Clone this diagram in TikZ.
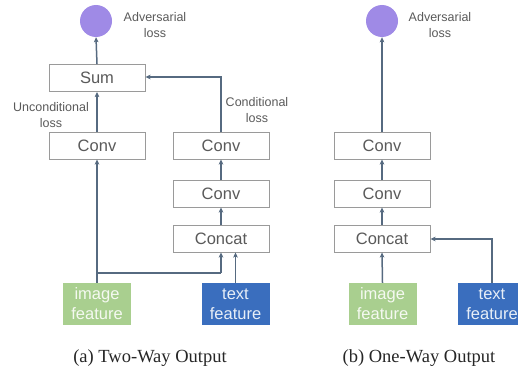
\documentclass[tikz,border=0pt]{standalone}
\usepackage{fontspec}
\setmainfont{Liberation Serif}
\newfontfamily\diagfont{Liberation Sans}
\usetikzlibrary{arrows.meta}
\definecolor{losspurple}{HTML}{9F8AE6}
\definecolor{imggreen}{HTML}{A9CF8F}
\definecolor{txtblue}{HTML}{3A6EBE}
\definecolor{wire}{HTML}{566A80}
\definecolor{boxline}{HTML}{9A9A9A}
\definecolor{boxtext}{HTML}{5A5A5A}
\tikzset{
  layer/.style={draw=boxline, line width=0.9pt, fill=white, minimum width=96pt,
    minimum height=27pt, inner sep=0pt, text=boxtext,
    font=\diagfont\fontsize{16.5}{18}\selectfont},
  feat/.style={minimum width=68pt, minimum height=42pt, inner sep=0pt,
    align=center, font=\diagfont\fontsize{16.5}{20}\selectfont},
  imgfeat/.style={feat, fill=imggreen, text=white!88!imggreen},
  txtfeat/.style={feat, fill=txtblue, text=white!88!txtblue},
  lossdot/.style={circle, fill=losspurple, minimum size=32pt, inner sep=0pt},
  note/.style={align=center, text=boxtext, font=\diagfont\fontsize{12.5}{16}\selectfont},
  caption/.style={font=\fontsize{18.5}{20}\selectfont, text=black!85},
  flow/.style={draw=wire, line width=1.5pt,
    -{Stealth[length=5pt, width=4.5pt, inset=1pt]}},
  wireonly/.style={draw=wire, line width=1.5pt}
}
\begin{document}
\begin{tikzpicture}[x=1pt, y=-1pt]
\useasboundingbox (0,0) rectangle (518,369);

% ---------- (a) two-way output ----------
\node[lossdot] (aloss) at (96,21) {};
\node[note] (aadv) at (155,25) {Adversarial\\loss};
\node[layer] (sum) at (97,78) {Sum};
\node[layer] (aconvL) at (97,145.5) {Conv};
\node[layer] (aconvR1) at (221,145.5) {Conv};
\node[layer] (aconvR2) at (221,193.5) {Conv};
\node[layer] (aconcat) at (221,238.5) {Concat};
\node[imgfeat] (aimg) at (97,304) {image\\feature};
\node[txtfeat] (atxt) at (235.5,304) {text\\feature};
\node[note] (uncond) at (51,115) {Unconditional\\loss};
\node[note] (cond) at (257,110) {Conditional\\loss};
\node[caption] (capa) at (150,358) {(a) Two-Way Output};

\coordinate (abranch) at (97,273);
\coordinate (aturn) at (221,273);
\coordinate (acorner) at (221,77);

\draw[flow] (sum.north) -- (aloss.south);
\draw[flow] (aconvL.north) -- (sum.south);
\draw[flow] (aimg.north) -- (aconvL.south);
\draw[wireonly] (abranch) -- (aturn);
\draw[flow] (aturn) -- (aconcat.south -| aturn);
\draw[flow] (atxt.north) -- (aconcat.south -| atxt.north);
\draw[flow] (aconcat.north) -- (aconvR2.south);
\draw[flow] (aconvR2.north) -- (aconvR1.south);
\draw[flow] (aconvR1.north) -- (acorner) -- (sum.east |- acorner);

% ---------- (b) one-way output ----------
\node[lossdot] (bloss) at (382,21) {};
\node[note] (badv) at (440,25) {Adversarial\\loss};
\node[layer] (bconv1) at (382,145.5) {Conv};
\node[layer] (bconv2) at (382,193.5) {Conv};
\node[layer] (bconcat) at (382,238.5) {Concat};
\node[imgfeat] (bimg) at (382.5,304) {image\\feature};
\node[txtfeat] (btxt) at (492,304) {text\\feature};
\node[caption] (capb) at (419,358) {(b) One-Way Output};

\coordinate (bcorner) at (492,239);

\draw[flow] (bconv1.north) -- (bloss.south);
\draw[flow] (bconv2.north) -- (bconv1.south);
\draw[flow] (bconcat.north) -- (bconv2.south);
\draw[flow] (bimg.north) -- (bconcat.south);
\draw[flow] (btxt.north -| bcorner) -- (bcorner) -- (bconcat.east |- bcorner);
\end{tikzpicture}
\end{document}
